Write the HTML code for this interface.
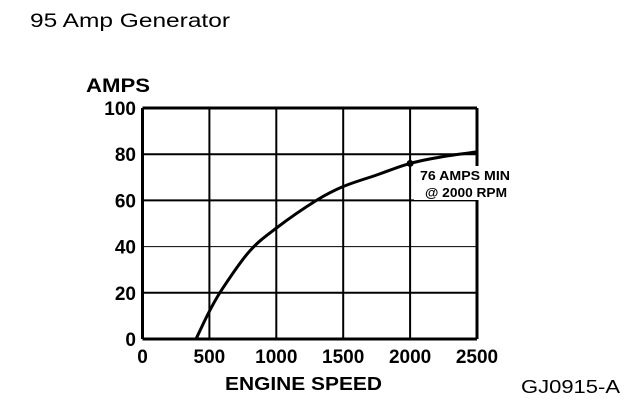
<!DOCTYPE html>
<html><head><meta charset="utf-8"><style>
body{margin:0;background:#fff;width:640px;height:406px;overflow:hidden}
svg text{font-family:"Liberation Sans",sans-serif;fill:#000}
</style></head><body>
<svg width="640" height="406">
<text x="30" y="27" font-size="19" textLength="200" lengthAdjust="spacingAndGlyphs">95 Amp Generator</text>
<text x="86" y="92" font-size="19" font-weight="bold" textLength="64" lengthAdjust="spacingAndGlyphs">AMPS</text>
<text x="225" y="390" font-size="18" font-weight="bold" textLength="157" lengthAdjust="spacingAndGlyphs">ENGINE SPEED</text>
<text x="521" y="393" font-size="18" textLength="99" lengthAdjust="spacingAndGlyphs">GJ0915-A</text>
<g id="grid"></g><g id="ticks"></g>
<path id="curve" fill="none" stroke="#000" stroke-width="3"/>
<circle id="marker" r="3.5" fill="#000"/>
<rect x="414" y="166" width="106" height="34" fill="#fff"/>
<text x="420" y="180" font-size="13" font-weight="bold" textLength="90" lengthAdjust="spacingAndGlyphs">76 AMPS MIN</text>
<text x="425" y="197" font-size="13" font-weight="bold" textLength="82" lengthAdjust="spacingAndGlyphs">@ 2000 RPM</text>
</svg>
<script>
const xTicks=[0,500,1000,1500,2000,2500];
const yTicks=[0,20,40,60,80,100];
const rpm=[400,500,600,800,1000,1300,1500,1750,2000,2250,2500];
const amps=[0,12,22,38,48,60,66,71,76,79,81];
const specRpm=2000, specAmps=76;
const X=v=>142.5+v/2500*(477-142.5);
const Y=v=>339-v/100*(339-108);
const ns="http://www.w3.org/2000/svg";
const g=document.getElementById('grid'),t=document.getElementById('ticks');
xTicks.forEach(v=>{const l=document.createElementNS(ns,'line');


l.setAttribute('x1',X(v));l.setAttribute('x2',X(v));l.setAttribute('y1',Y(0));l.setAttribute('y2',Y(100));
l.setAttribute('stroke','#000');l.setAttribute('stroke-width',(v==0||v==2500)?3:2);g.appendChild(l);
const tx=document.createElementNS(ns,'text');


tx.setAttribute('x',X(v));tx.setAttribute('y',363);tx.setAttribute('font-size','19');tx.setAttribute('font-weight','bold');tx.setAttribute('text-anchor','middle');tx.textContent=v;t.appendChild(tx);});
yTicks.forEach(v=>{const l=document.createElementNS(ns,'line');


l.setAttribute('x1',X(0));l.setAttribute('x2',X(2500));l.setAttribute('y1',Y(v));l.setAttribute('y2',Y(v));
l.setAttribute('stroke','#000');l.setAttribute('stroke-width',(v==0||v==100)?3:(v==40?1:2));g.appendChild(l);
const tx=document.createElementNS(ns,'text');


tx.setAttribute('x',136);tx.setAttribute('y',Y(v)+7);tx.setAttribute('font-size','19');tx.setAttribute('font-weight','bold');tx.setAttribute('text-anchor','end');tx.textContent=v;t.appendChild(tx);});
const P=rpm.map((r,i)=>[X(r),Y(amps[i])]);
let d='M'+P[0][0]+' '+P[0][1];
for(let i=0;i<P.length-1;i++){const p0=P[Math.max(i-1,0)],p1=P[i],p2=P[i+1],p3=P[Math.min(i+2,P.length-1)];
d+=' C'+(p1[0]+(p2[0]-p0[0])/6)+' '+(p1[1]+(p2[1]-p0[1])/6)+' '+(p2[0]-(p3[0]-p1[0])/6)+' '+(p2[1]-(p3[1]-p1[1])/6)+' '+p2[0]+' '+p2[1];}
document.getElementById('curve').setAttribute('d',d);
const m=document.getElementById('marker');m.setAttribute('cx',X(specRpm));m.setAttribute('cy',Y(specAmps));
</script>
</body></html>
